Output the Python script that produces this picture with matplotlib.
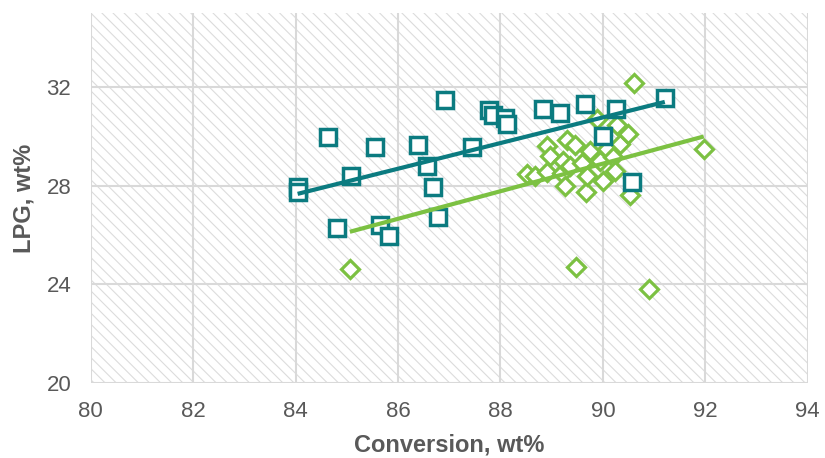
"""Scatter of LPG yield against conversion for two catalyst series, with linear trendlines."""

import matplotlib.pyplot as plt
import numpy as np
from matplotlib.patches import Rectangle

# Series A (teal squares)
conv_a = [84.04, 84.04, 84.63, 84.80, 85.08, 85.55, 85.64, 85.82, 86.39, 86.56,
          86.68, 86.78, 86.91, 87.44, 87.77, 87.85, 88.08, 88.12, 88.83, 89.16,
          89.65, 90.00, 90.25, 90.56, 91.21]
lpg_a = [27.96, 27.76, 29.96, 26.29, 28.40, 29.55, 26.40, 25.96, 29.63, 28.78,
         27.96, 26.73, 31.47, 29.55, 31.06, 30.86, 30.73, 30.49, 31.10, 30.94,
         31.30, 30.00, 31.10, 28.16, 31.55]

# Series B (green diamonds)
conv_b = [85.06, 88.52, 88.67, 88.90, 88.90, 88.96, 89.20, 89.22, 89.26, 89.30,
          89.36, 89.45, 89.47, 89.60, 89.67, 89.70, 89.75, 89.88, 89.94, 90.00,
          90.08, 90.20, 90.23, 90.27, 90.33, 90.49, 90.53, 90.60, 90.90, 91.97]
lpg_b = [24.60, 28.49, 28.37, 29.60, 28.57, 29.22, 28.50, 29.00, 28.00, 29.84,
         28.80, 29.63, 24.70, 28.90, 27.76, 28.40, 29.40, 30.70, 29.00, 28.20,
         29.50, 29.18, 28.60, 30.45, 29.70, 30.08, 27.60, 32.15, 23.80, 29.50]

x_ticks = [80, 82, 84, 86, 88, 90, 92, 94]
y_ticks = [20, 24, 28, 32]

TEAL = "#0b7b80"
GREEN = "#7cc142"
GRID = "#d9d9d9"
TEXT = "#595959"


def add_trendline(ax, x, y, color):
    slope, intercept = np.polyfit(x, y, 1)
    xs = np.array([min(x), max(x)])
    ax.plot(xs, slope * xs + intercept, color=color, lw=3.0, zorder=5,
            solid_capstyle="butt")


def main() -> None:
    plt.rcParams["font.family"] = ["Liberation Sans", "DejaVu Sans"]
    plt.rcParams["hatch.linewidth"] = 0.8

    fig = plt.figure(figsize=(8.25, 4.58), dpi=100)
    ax = fig.add_axes([0.110, 0.164, 0.869, 0.8076])

    ax.set_xlim(80, 94)
    ax.set_ylim(20, 35)

    # diagonal pattern fill behind the plot area
    ax.add_patch(Rectangle((0, 0), 1, 1, transform=ax.transAxes,
                           facecolor="white", edgecolor="#dcdcdc",
                           hatch="\\\\\\", lw=0, zorder=0))

    ax.set_xticks(x_ticks)
    ax.set_yticks(y_ticks)
    ax.grid(True, color=GRID, lw=1.5, zorder=1)
    ax.set_axisbelow(True)
    for spine in ax.spines.values():
        spine.set_visible(False)
    ax.tick_params(length=0, labelsize=16, labelcolor=TEXT)
    ax.tick_params(axis="x", pad=13)
    ax.tick_params(axis="y", pad=14)

    ax.plot(conv_b, lpg_b, ls="none", marker="D", ms=9.5, mfc="white",
            mec=GREEN, mew=2.3, zorder=3)
    ax.plot(conv_a, lpg_a, ls="none", marker="s", ms=11, mfc="white",
            mec=TEAL, mew=2.5, zorder=4)

    add_trendline(ax, conv_a, lpg_a, TEAL)
    add_trendline(ax, conv_b, lpg_b, GREEN)

    ax.set_xlabel("Conversion, wt%", fontsize=17, fontweight="bold",
                  color=TEXT, labelpad=8)
    ax.set_ylabel("LPG, wt%", fontsize=17, fontweight="bold",
                  color=TEXT, labelpad=8)

    fig.savefig("out.png", dpi=100)
    plt.close(fig)


if __name__ == "__main__":
    main()
